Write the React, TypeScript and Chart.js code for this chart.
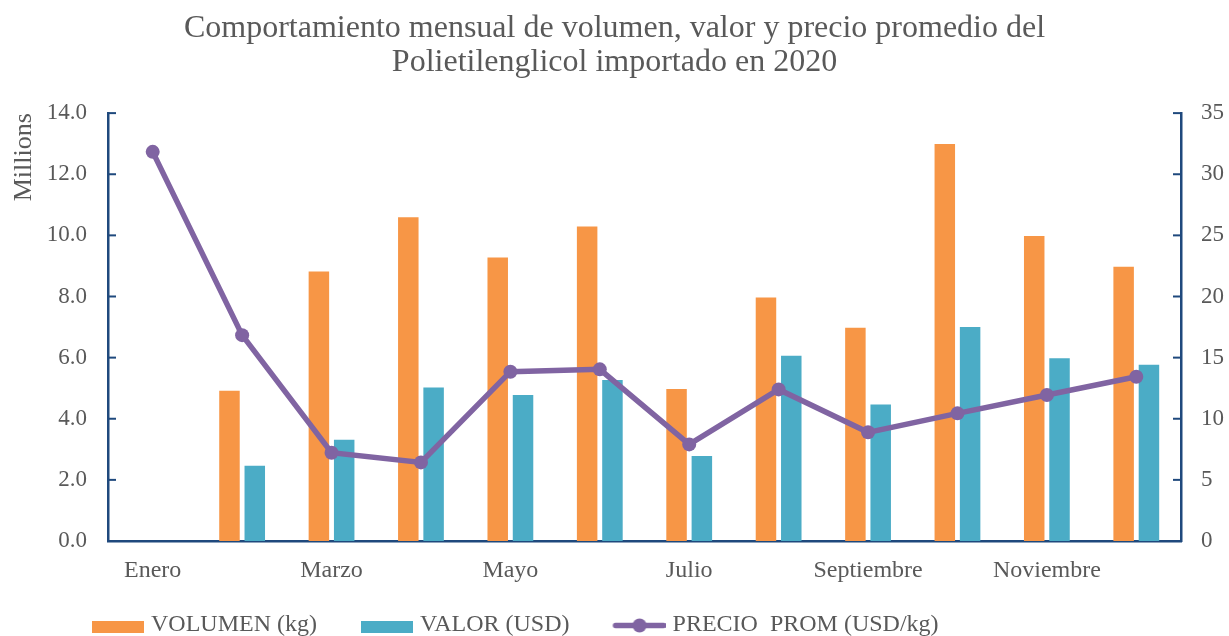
import React, { useEffect, useRef } from 'react';
import { Chart, registerables } from 'chart.js';

Chart.register(...registerables);

const months = ['Enero', 'Febrero', 'Marzo', 'Abril', 'Mayo', 'Junio', 'Julio', 'Agosto', 'Septiembre', 'Octubre', 'Noviembre', 'Diciembre'];
const volumenKg = [null, 4920000, 8820000, 10590000, 9280000, 10290000, 4970000, 7970000, 6980000, 12990000, 9980000, 8970000];
const valorUsd = [null, 2460000, 3310000, 5020000, 4780000, 5270000, 2780000, 6060000, 4470000, 7000000, 5980000, 5770000];
const precioProm = [31.83, 16.84, 7.22, 6.43, 13.85, 14.04, 7.9, 12.4, 8.89, 10.44, 11.94, 13.43];
const seriesLabels = ['VOLUMEN (kg)', 'VALOR (USD)', 'PRECIO  PROM (USD/kg)'];
const titleLines = ['Comportamiento mensual de volumen, valor y precio promedio del', 'Polietilenglicol importado en 2020'];
const leftAxisTitle = 'Millions';

const ORANGE = '#F79646';
const BLUE = '#4BACC6';
const PURPLE = '#8064A2';
const AXIS = '#1F497D';
const TEXT = '#595959';
const FONT = "'Liberation Serif', 'Times New Roman', serif";

function makeLegendImage(kind: 'bar' | 'line', color: string): HTMLCanvasElement {
  const c = document.createElement('canvas');
  c.width = 91;
  c.height = 20;
  const ctx = c.getContext('2d')!;
  const x0 = 39;
  const w = 52;
  if (kind === 'bar') {
    ctx.fillStyle = color;
    ctx.fillRect(x0, 6, w, 12);
  } else {
    ctx.strokeStyle = color;
    ctx.fillStyle = color;
    ctx.lineWidth = 5.5;
    ctx.lineCap = 'round';
    ctx.beginPath();
    ctx.moveTo(x0 + 2, 10.5);
    ctx.lineTo(x0 + w - 2, 10.5);
    ctx.stroke();
    ctx.beginPath();
    ctx.arc(x0 + w / 2, 10.5, 7, 0, Math.PI * 2);
    ctx.fill();
  }
  return c;
}

const customPlugin = {
  id: 'customAxesLegend',
  afterLayout(chart: any) {
    const lg = chart.legend;
    if (lg) {
      lg.left = 48;
      lg.top += 11;
      lg.bottom += 11;
    }
  },
  afterDraw(chart: any) {
    const ctx = chart.ctx;
    const y = chart.scales.y;
    const y1 = chart.scales.y1;
    ctx.save();
    ctx.strokeStyle = AXIS;
    ctx.lineWidth = 2;
    y.ticks.forEach((t: any) => {
      const py = y.getPixelForValue(t.value);
      ctx.beginPath();
      ctx.moveTo(y.right, py);
      ctx.lineTo(y.right + 8, py);
      ctx.stroke();
    });
    y1.ticks.forEach((t: any) => {
      const py = y1.getPixelForValue(t.value);
      ctx.beginPath();
      ctx.moveTo(y1.left - 8, py);
      ctx.lineTo(y1.left, py);
      ctx.stroke();
    });
    ctx.restore();
  },
};

export default function App() {
  const ref = useRef<HTMLCanvasElement>(null);

  useEffect(() => {
    if (!ref.current) return;
    const images = [makeLegendImage('bar', ORANGE), makeLegendImage('bar', BLUE), makeLegendImage('line', PURPLE)];
    const chart = new Chart(ref.current, {
      type: 'bar',
      data: {
        labels: months,
        datasets: [
          {
            type: 'bar',
            label: seriesLabels[0],
            data: volumenKg as any,
            backgroundColor: ORANGE,
            yAxisID: 'y',
            order: 2,
            categoryPercentage: 0.566,
            barPercentage: 0.81,
          },
          {
            type: 'bar',
            label: seriesLabels[1],
            data: valorUsd as any,
            backgroundColor: BLUE,
            yAxisID: 'y',
            order: 2,
            categoryPercentage: 0.566,
            barPercentage: 0.81,
          },
          {
            type: 'line',
            label: seriesLabels[2],
            data: precioProm,
            borderColor: PURPLE,
            backgroundColor: PURPLE,
            borderWidth: 5.5,
            pointRadius: 7,
            pointBackgroundColor: PURPLE,
            pointBorderWidth: 0,
            yAxisID: 'y1',
            order: 0,
            tension: 0,
          } as any,
        ],
      },
      options: {
        responsive: true,
        maintainAspectRatio: false,
        animation: false,
        layout: { padding: 0 },
        plugins: {
          title: {
            display: true,
            text: titleLines,
            color: TEXT,
            font: { family: FONT, size: 32, weight: 'normal', lineHeight: 1.08 },
            padding: { top: 11, bottom: 33 },
          },
          legend: {
            display: true,
            position: 'bottom',
            align: 'start',
            labels: {
              color: TEXT,
              font: { family: FONT, size: 24 },
              usePointStyle: true,
              pointStyleWidth: 81,
              padding: 10,
              sort: (a: any, b: any) => a.datasetIndex - b.datasetIndex,
              generateLabels: (ch: any) => {
                const items = Chart.defaults.plugins.legend.labels.generateLabels(ch);
                return items.map((it: any) => ({ ...it, pointStyle: images[it.datasetIndex], fontColor: TEXT }));
              },
            },
          },
          tooltip: { enabled: false },
        },
        scales: {
          x: {
            grid: { display: false, drawTicks: false },
            border: { display: true, color: AXIS, width: 2.5 },
            ticks: {
              color: TEXT,
              font: { family: FONT, size: 24 },
              padding: 15,
              autoSkip: false,
              maxRotation: 0,
              callback: (_v: any, idx: number) => (idx % 2 === 0 ? months[idx] : ''),
            },
            afterFit: (s: any) => {
              s.height = 51;
            },
          },
          y: {
            position: 'left',
            min: 0,
            max: 14000000,
            grid: { display: false, drawTicks: false },
            border: { display: true, color: AXIS, width: 2.5 },
            ticks: {
              stepSize: 2000000,
              color: TEXT,
              font: { family: FONT, size: 23 },
              padding: 21,
              callback: (v: any) => (Number(v) / 1000000).toFixed(1),
            },
            title: {
              display: true,
              text: leftAxisTitle,
              align: 'end',
              color: TEXT,
              font: { family: FONT, size: 26 },
              padding: { top: 9, bottom: 0 },
            },
            afterFit: (s: any) => {
              s.width = 108;
            },
          },
          y1: {
            position: 'right',
            min: 0,
            max: 35,
            grid: { display: false, drawTicks: false, drawOnChartArea: false },
            border: { display: true, color: AXIS, width: 2.5 },
            ticks: {
              stepSize: 5,
              color: TEXT,
              font: { family: FONT, size: 23 },
              padding: 20,
            },
            afterFit: (s: any) => {
              s.width = 48;
            },
          },
        },
      },
      plugins: [customPlugin],
    } as any);
    return () => chart.destroy();
  }, []);

  return (
    <div style={{ position: 'absolute', left: 0, top: 0, width: 1229, height: 636, background: '#fff' }}>
      <canvas ref={ref} />
    </div>
  );
}
